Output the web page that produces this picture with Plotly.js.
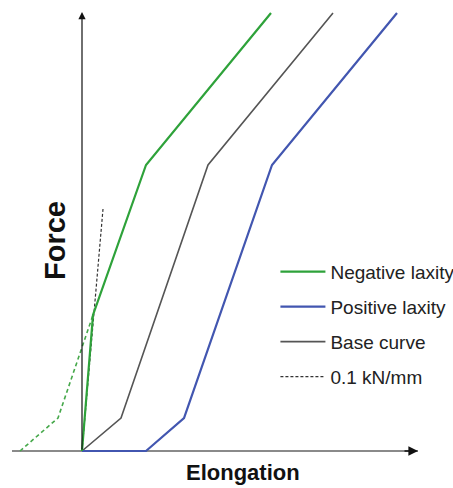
<!DOCTYPE html>
<html>
<head>
<meta charset="utf-8">
<script src="https://cdn.plot.ly/plotly-3.0.1.min.js"></script>
<style>html,body{margin:0;padding:0;background:#fff;}#chart{width:453px;height:488px;}</style>
</head>
<body>
<div id="chart"></div>
<script>
// Elongation (x) and Force (y), arbitrary units
var seriesNames = ["Negative laxity", "Positive laxity", "Base curve", "0.1 kN/mm"];
var negX = [0, 1.1, 6.4, 18.9];
var negY = [0, 13.6, 28.6, 43.8];
var negToeX = [-6.2, -2.4, 1.1];
var negToeY = [0, 3.3, 13.6];
var posX = [0, 6.4, 10.2, 19.0, 31.5];
var posY = [0, 0, 3.3, 28.6, 43.8];
var baseX = [0, 3.9, 12.6, 25.1];
var baseY = [0, 3.3, 28.6, 43.8];
var stiffX = [0, 2.1];
var stiffY = [0, 24.2];
var axisXStart = -7.0, axisXEnd = 33.6, axisYTop = 43.9;
var xTitle = "Elongation", yTitle = "Force";

var traces = [
  {x: negToeX, y: negToeY, mode: "lines", line: {color: "#45a84a", width: 1.6, dash: "4px,3px"}, showlegend: false, hoverinfo: "skip"},
  {x: stiffX, y: stiffY, mode: "lines", name: seriesNames[3], legendgroup: "d", line: {color: "#333333", width: 1.2, dash: "3px,2px"}, legendrank: 4},
  {x: baseX, y: baseY, mode: "lines", name: seriesNames[2], legendgroup: "c", line: {color: "#555555", width: 1.6}, legendrank: 3},
  {x: posX, y: posY, mode: "lines", name: seriesNames[1], legendgroup: "b", line: {color: "#4256b0", width: 2.2}, legendrank: 2},
  {x: negX, y: negY, mode: "lines", name: seriesNames[0], legendgroup: "a", line: {color: "#2ea23a", width: 2.2}, legendrank: 1}
];

var layout = {
  width: 453, height: 488,
  margin: {l: 0, r: 0, t: 0, b: 0, autoexpand: false},
  paper_bgcolor: "#fff", plot_bgcolor: "#fff",
  font: {family: "Liberation Sans, Arial, sans-serif", color: "#222"},
  xaxis: {range: [-8.2, 37.1], visible: false, fixedrange: true},
  yaxis: {range: [-3.7, 45.1], visible: false, fixedrange: true},
  showlegend: true,
  legend: {x: 0.608, y: 0.482, xanchor: "left", yanchor: "top", bgcolor: "rgba(0,0,0,0)",
           font: {size: 19, color: "#222"}, itemwidth: 45, traceorder: "grouped", tracegroupgap: 7.3},
  shapes: [
    {type: "line", xref: "x", yref: "y", x0: axisXStart, x1: axisXEnd, y0: 0, y1: 0, line: {color: "#8a8a8a", width: 2}, layer: "below"}
  ],
  annotations: [
    {xref: "x", yref: "y", axref: "x", ayref: "y", x: 0, y: axisYTop, ax: 0, ay: 0, text: "", showarrow: true, arrowhead: 2, arrowsize: 1.2, arrowwidth: 1.2, arrowcolor: "#111"},
    {xref: "x", yref: "y", axref: "x", ayref: "y", x: axisXEnd, y: 0, ax: axisXEnd - 1.5, ay: 0, text: "", showarrow: true, arrowhead: 2, arrowsize: 1.2, arrowwidth: 1.6, arrowcolor: "#111"},
    {xref: "x", yref: "y", x: -2.7, y: 21.0, text: yTitle, showarrow: false, textangle: -90, font: {size: 29, color: "#111", family: "Liberation Sans, Arial, sans-serif", weight: "bold"}},
    {xref: "x", yref: "y", x: 16.1, y: -2.1, text: xTitle, showarrow: false, font: {size: 22, color: "#111", family: "Liberation Sans, Arial, sans-serif", weight: "bold"}}
  ]
};

Plotly.newPlot("chart", traces, layout, {displayModeBar: false, staticPlot: true});
</script>
</body>
</html>
